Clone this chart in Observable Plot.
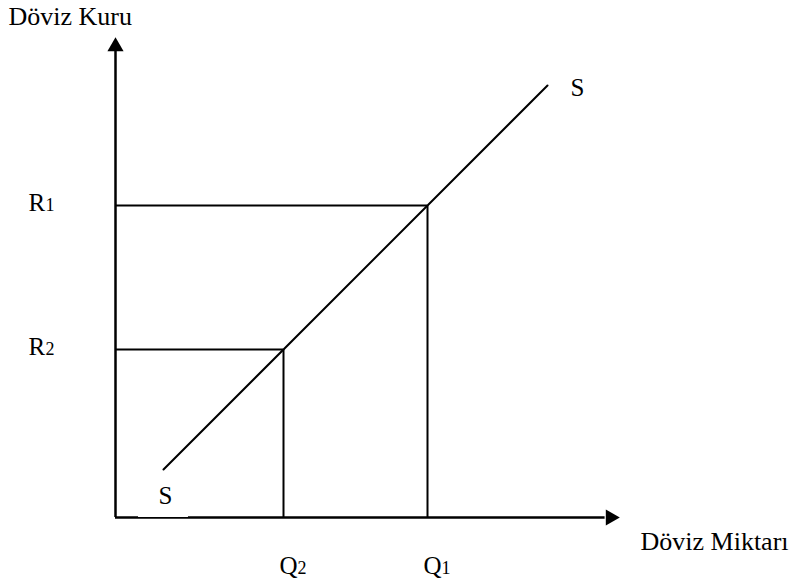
<!DOCTYPE html>
<html>
<head>
<meta charset="utf-8">
<script src="https://cdn.jsdelivr.net/npm/d3@7"></script>
<script src="https://cdn.jsdelivr.net/npm/@observablehq/plot@0.6"></script>
<style>
  html, body { margin: 0; padding: 0; background: #fff; }
</style>
</head>
<body>
<div id="chart"></div>
<script>
// Supply curve S (exchange rate vs. quantity of foreign currency)
const supplyX = [1, 9];
const supplyY = [1, 9];
// Exchange rate levels
const rateLabels = ["R", "R"];
const rateSubs = ["1", "2"];
const rateValues = [6.5, 3.5];
// Quantities
const qtyLabels = ["Q", "Q"];
const qtySubs = ["1", "2"];
const qtyValues = [6.5, 3.5];
// Axis extents and titles
const xMax = 10.5;
const yMax = 10;
const yTitle = "Döviz Kuru";
const xTitle = "Döviz Miktarı";
const curveLabel = "S";

const supply = supplyX.map((x, i) => ({x, y: supplyY[i]}));
const rates = rateValues.map((v, i) => ({label: rateLabels[i], sub: rateSubs[i], value: v, q: qtyValues[i]}));
const qtys = qtyValues.map((v, i) => ({label: qtyLabels[i], sub: qtySubs[i], value: v, r: rateValues[i]}));

const font = "'Liberation Serif', 'Times New Roman', serif";

const chart = Plot.plot({
  width: 792,
  height: 587,
  marginLeft: 115,
  marginRight: 173,
  marginTop: 37,
  marginBottom: 70,
  style: {fontFamily: font, background: "#fff", overflow: "visible"},
  x: {domain: [0, xMax], axis: null},
  y: {domain: [0, yMax], axis: null},
  marks: [
    // guide lines
    Plot.ruleY(rates, {y: "value", x1: 0, x2: "q", stroke: "#000", strokeWidth: 2}),
    Plot.ruleX(qtys, {x: "value", y1: 0, y2: "r", stroke: "#000", strokeWidth: 2}),
    // axes
    Plot.ruleY([0], {x1: 0, x2: xMax - 0.3, stroke: "#000", strokeWidth: 2.5}),
    Plot.ruleX([0], {y1: 0, y2: yMax - 0.25, stroke: "#000", strokeWidth: 2.5}),
    Plot.dot([{x: 0, y: yMax}], {x: "x", y: "y", symbol: "triangle", r: 6, fill: "#000", stroke: "none", dy: 9}),
    Plot.dot([{x: xMax, y: 0}], {x: "x", y: "y", symbol: "triangle", r: 6, fill: "#000", stroke: "none", rotate: 90, dx: -9}),
    // supply curve
    Plot.line(supply, {x: "x", y: "y", stroke: "#000", strokeWidth: 2}),
    // white label box at the lower end of S
    Plot.rect([supply[0]], {x1: d => d.x - 0.52, x2: d => d.x + 0.52, y1: 0, y2: d => d.y - 0.35, fill: "#fff"}),
    // curve labels
    Plot.text([supply[1]], {x: "x", y: "y", text: () => curveLabel, dx: 30, dy: 2, fontSize: 25, fill: "#000"}),
    Plot.text([supply[0]], {x: "x", y: "y", text: () => curveLabel, dx: 2, dy: 26, fontSize: 25, fill: "#000"}),
    // rate labels
    Plot.text(rates, {x: 0, y: "value", text: "label", textAnchor: "start", dx: -87, dy: -3, fontSize: 25, fill: "#000"}),
    Plot.text(rates, {x: 0, y: "value", text: "sub", textAnchor: "start", dx: -70, dy: -0.5, fontSize: 18, fill: "#000"}),
    // quantity labels
    Plot.text(qtys, {x: "value", y: 0, text: "label", textAnchor: "start", dx: -4, dy: 48, fontSize: 25, fill: "#000"}),
    Plot.text(qtys, {x: "value", y: 0, text: "sub", textAnchor: "start", dx: 14, dy: 50.5, fontSize: 18, fill: "#000"}),
    // axis titles
    Plot.text([{x: 0, y: yMax}], {x: "x", y: "y", text: () => yTitle, textAnchor: "start", dx: -107, dy: -21, fontSize: 26, fill: "#000"}),
    Plot.text([{x: xMax, y: 0}], {x: "x", y: "y", text: () => xTitle, textAnchor: "start", dx: 21, dy: 24, fontSize: 26, fill: "#000"})
  ]
});
document.getElementById("chart").append(chart);
</script>
</body>
</html>
